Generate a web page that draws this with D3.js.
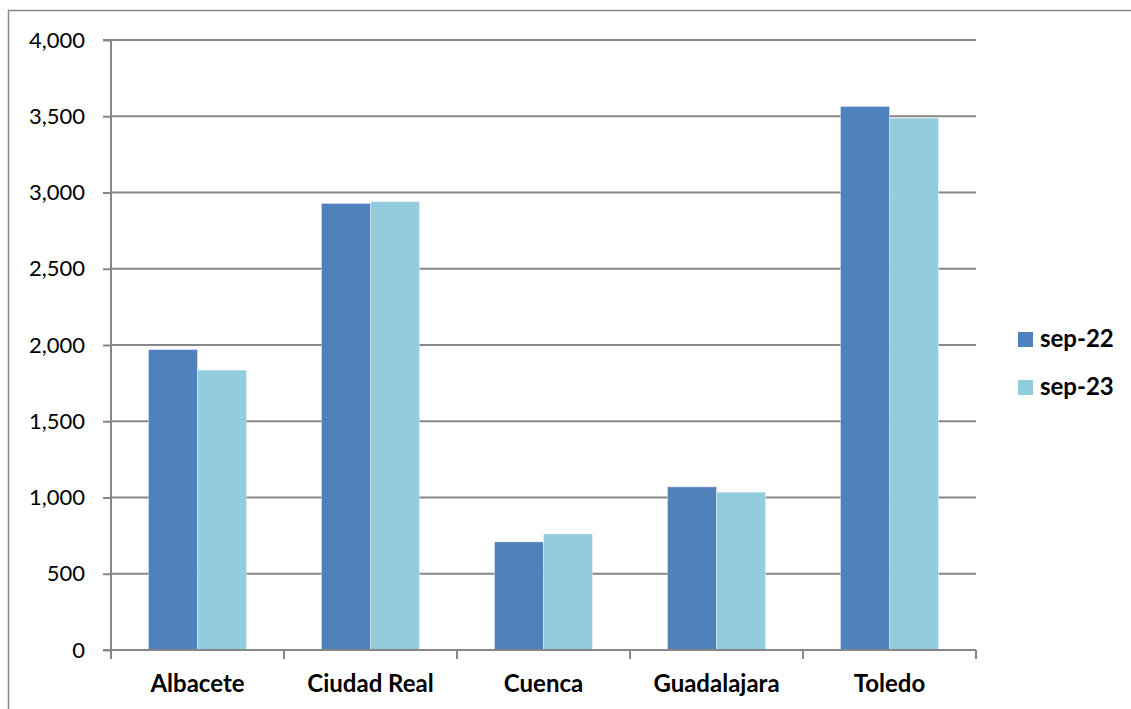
<!DOCTYPE html>
<html>
<head>
<meta charset="utf-8">
<script src="https://cdn.jsdelivr.net/npm/d3@7"></script>
<style>
  html, body { margin: 0; padding: 0; background: #fff; }
  svg { display: block; }
  text { font-family: "Lato", "Open Sans", sans-serif; }
</style>
</head>
<body>
<svg id="chart" width="1131" height="709"></svg>
<script>
const categories = ["Albacete", "Ciudad Real", "Cuenca", "Guadalajara", "Toledo"];
const seriesNames = ["sep-22", "sep-23"];
const sep22 = [1970, 2928, 709, 1070, 3564];
const sep23 = [1835, 2940, 761, 1035, 3488];
const yTicks = [0, 500, 1000, 1500, 2000, 2500, 3000, 3500, 4000];
const colors = ["#4F81BD", "#93CDDD"];

(function () {
const svg = d3.select("#chart");
const W = 1131, H = 709;
const mLeft = 111, mRight = 976, mTop = 40, mBottom = 650;

// outer frame (cropped on right/bottom)
svg.append("path")
  .attr("d", `M8.5,${H} L8.5,10.5 L${W},10.5`)
  .attr("fill", "none").attr("stroke", "#888").attr("stroke-width", 1.5);

const x = d3.scaleBand().domain(categories).range([mLeft, mRight]).paddingInner(0).paddingOuter(0);
const x1 = d3.scaleBand().domain(seriesNames).range([0, x.bandwidth()]).paddingInner(0).paddingOuter(0.765);
const y = d3.scaleLinear().domain([0, 4000]).range([mBottom, mTop]);

// gridlines
svg.append("g").selectAll("line").data(yTicks.filter(d => d > 0)).join("line")
  .attr("x1", mLeft).attr("x2", mRight)
  .attr("y1", d => y(d)).attr("y2", d => y(d))
  .attr("stroke", "#878787").attr("stroke-width", 2);

// bars
const values = [sep22, sep23];
const g = svg.append("g");
categories.forEach((c, i) => {
  seriesNames.forEach((s, j) => {
    g.append("rect")
      .attr("x", x(c) + x1(s))
      .attr("y", y(values[j][i]))
      .attr("width", x1.bandwidth())
      .attr("height", y(0) - y(values[j][i]))
      .attr("fill", colors[j])
      .attr("stroke", "rgba(255,255,255,0.35)")
      .attr("stroke-width", 1);
  });
});

// y axis
const yAxis = d3.axisLeft(y).tickValues(yTicks).tickSize(8).tickPadding(18)
  .tickFormat(d3.format(","));
const ya = svg.append("g").attr("transform", `translate(${mLeft},0)`).call(yAxis);
ya.select(".domain").attr("stroke", "#878787").attr("stroke-width", 2).attr("d", `M-8,${mTop}H0V${mBottom}H-8`);
ya.selectAll(".tick line").attr("stroke", "#878787").attr("stroke-width", 2);
ya.selectAll(".tick text").attr("font-size", 22).attr("fill", "#000")
  .attr("font-family", "Lato, 'Open Sans', sans-serif");

// x axis
const xAxis = d3.axisBottom(x).tickSize(0).tickPadding(25);
const xa = svg.append("g").attr("transform", `translate(0,${mBottom})`).call(xAxis);
xa.select(".domain").attr("stroke", "#878787").attr("stroke-width", 2).attr("d", `M${mLeft},0H${mRight}`);
xa.selectAll(".tick text").attr("font-size", 24).attr("font-weight", "bold").attr("fill", "#000")
  .attr("font-family", "Lato, 'Open Sans', sans-serif");
// boundary ticks between categories
const bounds = categories.map(c => x(c)).concat([mRight]);
xa.append("g").selectAll("line").data(bounds).join("line")
  .attr("x1", d => d).attr("x2", d => d).attr("y1", 0).attr("y2", 9)
  .attr("stroke", "#878787").attr("stroke-width", 2);

// legend
const lg = svg.append("g").attr("transform", "translate(1018,332)");
seriesNames.forEach((s, j) => {
  const row = lg.append("g").attr("transform", `translate(0,${j * 48})`);
  row.append("rect").attr("width", 15).attr("height", 15).attr("fill", colors[j]);
  row.append("text").attr("x", 22).attr("y", 15).attr("font-size", 24).attr("font-weight", "bold")
    .attr("fill", "#000").text(s);
});
})();
</script>
</body>
</html>
